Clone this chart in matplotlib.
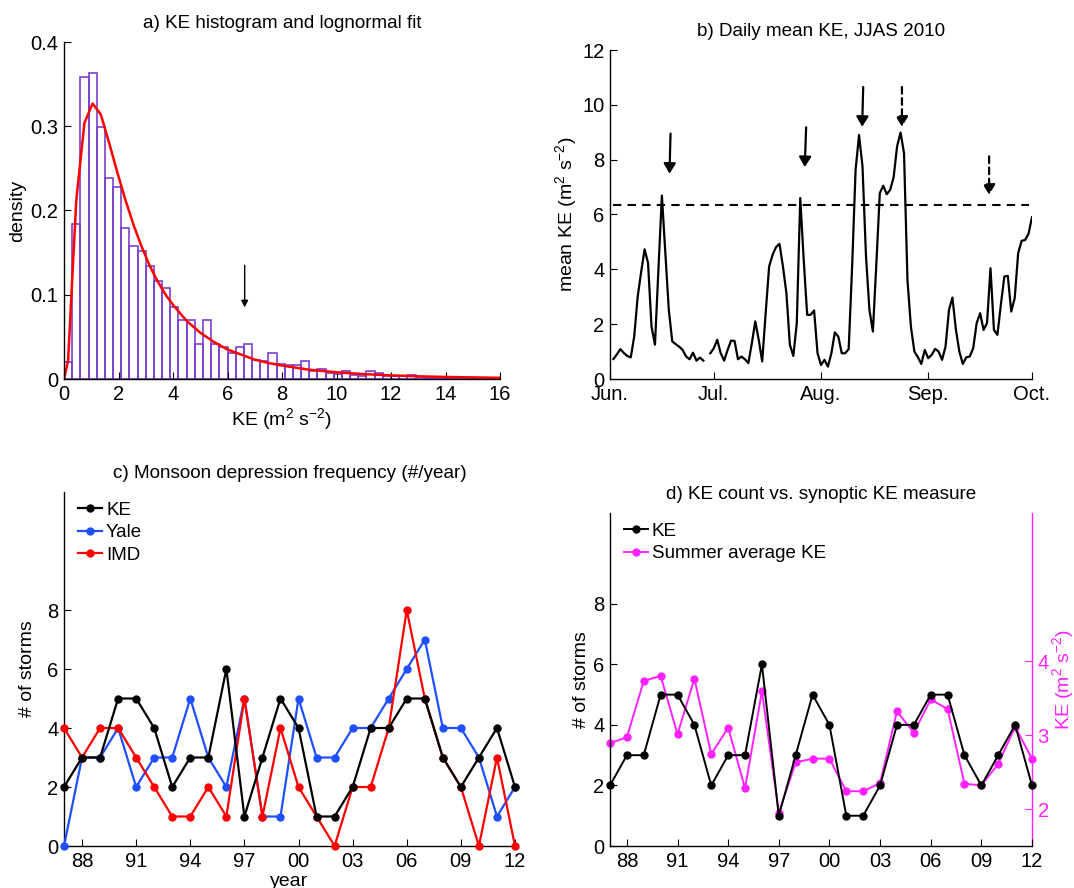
import numpy as np
import matplotlib
matplotlib.use("Agg")
import matplotlib.pyplot as plt

plt.rcParams["font.family"] = ["Liberation Sans", "DejaVu Sans"]
plt.rcParams["mathtext.fontset"] = "custom"
plt.rcParams["mathtext.rm"] = "Liberation Sans"
plt.rcParams["mathtext.it"] = "Liberation Sans"
plt.rcParams["xtick.direction"] = "in"
plt.rcParams["ytick.direction"] = "in"
plt.rcParams["xtick.labelsize"] = 14.5
plt.rcParams["ytick.labelsize"] = 14.5
plt.rcParams["axes.labelsize"] = 14
plt.rcParams["axes.titlesize"] = 13.6
plt.rcParams["axes.linewidth"] = 1.0

PURPLE = "#7b3fd1"
BLUE = "#1f4fff"
MAGENTA = "#ff22ff"

# a) histogram of KE, bins of 0.3 m2 s-2 starting at 0
bin_width = 0.3
hist_density = [0.020, 0.184, 0.358, 0.363, 0.299, 0.239, 0.228, 0.179, 0.158, 0.152,
                 0.134, 0.116, 0.108, 0.085, 0.070, 0.070, 0.042, 0.070, 0.042, 0.038,
                 0.031, 0.038, 0.042, 0.023, 0.021, 0.031, 0.018, 0.017, 0.017, 0.021,
                 0.010, 0.0115, 0.0067, 0.0055, 0.009, 0.005, 0.004, 0.009, 0.0067, 0.004,
                 0.003, 0.004, 0.0044, 0.002, 0.0016, 0.0016, 0.0012, 0.0008, 0.0012, 0.0008,
                 0.0004, 0.0008, 0.0004]
fit_ke = [0, 0.15, 0.45, 0.75, 1.05, 1.35, 1.65, 1.95, 2.25, 2.55, 2.85, 3.15, 3.45, 3.75,
          4.05, 4.5, 5.0, 5.5, 6.0, 6.5, 7.0, 7.5, 8.0, 9.0, 10.0, 11.0, 12.0, 13.0, 14.0,
          15.0, 16.0]
fit_pdf = [0, 0.022, 0.212, 0.304, 0.327, 0.314, 0.281, 0.246, 0.213, 0.183, 0.157, 0.134,
           0.115, 0.099, 0.086, 0.069, 0.055, 0.044, 0.035, 0.029, 0.023, 0.019, 0.016,
           0.011, 0.008, 0.0058, 0.0043, 0.0032, 0.0024, 0.0019, 0.0014]
threshold_a = 6.63

# b) daily mean KE, JJAS 2010 (day 1 = Jun 2)
ke_daily = [0.73, 0.90, 1.09, 0.95, 0.84, 0.79, 1.55, 3.00, 3.90, 4.73,
            4.23, 1.91, 1.25, 4.00, 6.69, 4.60, 2.52, 1.37, 1.27, 1.18,
            1.06, 0.82, 0.72, 0.96, 0.67, 0.78, 0.67, np.nan, 0.94, 1.12,
            1.43, 0.94, 0.67, 1.06, 1.40, 1.39, 0.72, 0.82, 0.72, 0.58,
            1.30, 2.10, 1.43, 0.64, 2.40, 4.10, 4.53, 4.81, 4.93, 4.10,
            3.13, 1.25, 0.84, 2.04, 6.60, 4.35, 2.34, 2.34, 2.50, 0.94,
            0.51, 0.70, 0.45, 0.94, 1.70, 1.55, 0.94, 0.94, 1.09, 4.10,
            7.63, 8.90, 7.75, 4.50, 2.52, 1.73, 4.20, 6.78, 7.05, 6.74,
            6.90, 7.36, 8.49, 8.99, 8.24, 3.60, 1.90, 1.00, 0.80, 0.55,
            1.06, 0.76, 0.88, 1.10, 1.00, 0.70, 1.18, 2.52, 2.97, 1.80,
            1.00, 0.55, 0.79, 0.82, 1.12, 2.04, 2.40, 1.79, 2.04, 4.04,
            1.79, 1.61, 2.71, 3.74, 3.76, 2.46, 2.95, 4.59, 5.04, 5.07,
            5.30, 5.90]
ke_threshold = 6.33
month_days = [0, 30, 61, 92, 122]
month_names = ["Jun.", "Jul.", "Aug.", "Sep.", "Oct."]
arrow_top_x = [17.5, 56.7, 73.2, 84.4, 109.6]
arrow_tip_x = [17.2, 56.3, 72.9, 84.4, 109.6]
arrow_top = [8.95, 9.18, 10.65, 10.65, 8.12]
arrow_tip = [7.49, 7.73, 9.20, 9.20, 6.72]
arrow_dashed = [False, False, False, True, True]

# c) and d) storms per year
years = list(range(1987, 2013))
storms_ke = [2, 3, 3, 5, 5, 4, 2, 3, 3, 6, 1, 3, 5, 4, 1, 1, 2, 4, 4, 5, 5, 3, 2, 3, 4, 2]
storms_yale = [0, 3, 3, 4, 2, 3, 3, 5, 3, 2, 5, 1, 1, 5, 3, 3, 4, 4, 5, 6, 7, 4, 4, 3, 1, 2]
storms_imd = [4, 3, 4, 4, 3, 2, 1, 1, 2, 1, 5, 1, 4, 2, 1, 0, 2, 2, 4, 8, 5, 3, 2, 0, 3, 0]
summer_ke = [2.89, 2.97, 3.73, 3.80, 3.01, 3.76, 2.74, 3.10, 2.28, 3.59, 1.95, 2.63, 2.68,
             2.68, 2.24, 2.24, 2.35, 3.32, 3.03, 3.48, 3.35, 2.34, 2.32, 2.61, 3.11, 2.68]
year_ticks = [1988, 1991, 1994, 1997, 2000, 2003, 2006, 2009, 2012]

W, H = 1074, 888
KE_UNITS = "KE (m$^{2}$ s$^{-2}$)"


def box_off(ax):
    ax.spines["top"].set_visible(False)
    ax.spines["right"].set_visible(False)
    ax.tick_params(length=5, width=0.8, pad=4)


def rect(left, top, right, bottom):
    return [left / W, 1 - bottom / H, (right - left) / W, (bottom - top) / H]


def legend_sin_marco(ax, handles, labels):
    ax.legend(handles, labels, loc="upper left", frameon=False, fontsize=13.5,
              handlelength=1.3, handletextpad=0.2, labelspacing=0.3,
              borderaxespad=0.1, bbox_to_anchor=(0.01, 1.0))


fig = plt.figure(figsize=(W / 100, H / 100), dpi=100)

# ---- a) histogram + lognormal fit
ax = fig.add_axes(rect(64, 42, 500, 379))
box_off(ax)
bin_left = np.arange(len(hist_density)) * bin_width
ax.bar(bin_left, hist_density, width=bin_width, align="edge", fill=False,
       edgecolor=PURPLE, linewidth=1.2)
ax.plot(fit_ke, fit_pdf, color="r", lw=1.8)
ax.annotate("", xy=(threshold_a, 0.085), xytext=(threshold_a, 0.135),
            arrowprops=dict(arrowstyle="-|>", color="k", lw=1.0, mutation_scale=10,
                            shrinkA=0, shrinkB=0))
ax.set_xlim(0, 16)
ax.set_ylim(0, 0.4)
ax.set_xticks(range(0, 17, 2))
ax.set_yticks([0, 0.1, 0.2, 0.3, 0.4])
ax.set_yticklabels(["0", "0.1", "0.2", "0.3", "0.4"])
ax.set_xlabel(KE_UNITS, labelpad=2)
ax.set_ylabel("density", labelpad=3)
ax.set_title("a) KE histogram and lognormal fit", pad=10)

# ---- b) daily mean KE
ax = fig.add_axes(rect(610, 50, 1032, 379))
box_off(ax)
days = np.arange(1, len(ke_daily) + 1)
ax.plot(days, ke_daily, color="k", lw=1.6)
ax.plot([days[0], days[-1] - 1], [ke_threshold, ke_threshold], "--", color="k", lw=1.5,
        dashes=(4, 3))
for xt, xb, yt, yb, dashed in zip(arrow_top_x, arrow_tip_x, arrow_top, arrow_tip, arrow_dashed):
    ax.annotate("", xy=(xb, yb), xytext=(xt, yt),
                arrowprops=dict(arrowstyle="-|>,head_length=0.5,head_width=0.3", color="k",
                                lw=1.6, ls=(0, (3, 2)) if dashed else "-",
                                mutation_scale=12, shrinkA=0, shrinkB=0))
ax.set_xlim(month_days[0], month_days[-1])
ax.set_ylim(0, 12)
ax.set_xticks(month_days)
ax.set_xticklabels(month_names)
ax.set_yticks(range(0, 13, 2))
ax.set_ylabel("mean " + KE_UNITS, labelpad=2)
ax.set_title("b) Daily mean KE, JJAS 2010", pad=10)

# ---- c) monsoon depression frequency
ax = fig.add_axes(rect(64, 492, 515, 846))
box_off(ax)
h_yale, = ax.plot(years, storms_yale, "-o", color=BLUE, lw=1.6, ms=5, clip_on=False, zorder=3)
h_imd, = ax.plot(years, storms_imd, "-o", color="r", lw=1.6, ms=5, clip_on=False, zorder=4)
h_ke, = ax.plot(years, storms_ke, "-o", color="k", lw=1.6, ms=5, clip_on=False, zorder=5)
legend_sin_marco(ax, [h_ke, h_yale, h_imd], ["KE", "Yale", "IMD"])
ax.set_xlim(1987, 2012)
ax.set_ylim(0, 12)
ax.set_xticks(year_ticks)
ax.set_xticklabels([f"{y % 100:02d}" for y in year_ticks])
ax.set_yticks(range(0, 9, 2))
ax.set_xlabel("year", labelpad=2)
ax.set_ylabel("# of storms", labelpad=8)
ax.set_title("c) Monsoon depression frequency (#/year)", pad=10)

# ---- d) KE count vs summer average KE
ax = fig.add_axes(rect(610, 513, 1032, 846))
box_off(ax)
h_ke, = ax.plot(years, storms_ke, "-o", color="k", lw=1.4, ms=5, clip_on=False, zorder=3)
ax.set_xlim(1987, 2012)
ax.set_ylim(0, 11)
ax.set_xticks(year_ticks)
ax.set_xticklabels([f"{y % 100:02d}" for y in year_ticks])
ax.set_yticks(range(0, 9, 2))
ax.set_ylabel("# of storms", labelpad=2)
ax.set_title("d) KE count vs. synoptic KE measure", pad=10)

ax2 = ax.twinx()
for side in ["top", "left", "bottom"]:
    ax2.spines[side].set_visible(False)
ax2.spines["right"].set_color(MAGENTA)
h_sum, = ax2.plot(years, summer_ke, "-o", color=MAGENTA, lw=1.4, ms=5, clip_on=False, zorder=4)
ax2.set_ylim(1.5, 6)
ax2.set_yticks([2, 3, 4])
ax2.tick_params(axis="y", colors=MAGENTA, length=5, width=0.8, pad=4)
ax2.set_ylabel(KE_UNITS, color=MAGENTA, labelpad=1)
ax.set_zorder(ax2.get_zorder() + 1)
ax.patch.set_visible(False)
legend_sin_marco(ax, [h_ke, h_sum], ["KE", "Summer average KE"])

fig.savefig("out.png", dpi=100)
